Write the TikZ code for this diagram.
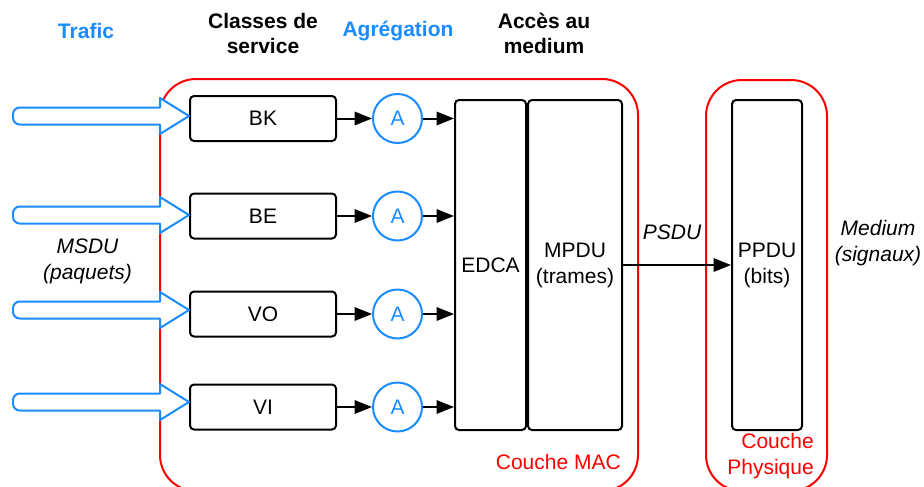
\documentclass[tikz,border=0pt]{standalone}
\usepackage{fontspec}
\setmainfont{Liberation Sans}
\usepackage{xcolor}
\usetikzlibrary{%
	arrows.meta,%
	calc,%
	positioning%
}
\definecolor{trafblue}{HTML}{1A8CFF}
\definecolor{macred}{HTML}{FF0000}

\begin{document}
\begin{tikzpicture}[x=0.75pt,y=-0.75pt,
	txt/.style={font=\fontsize{15.75}{19.5}\selectfont,align=center,inner sep=0pt},
	hdr/.style={txt,font=\fontsize{15.75}{18.75}\selectfont\bfseries},
	lbl/.style={txt,font=\fontsize{15.75}{19.5}\selectfont\itshape},
	blk/.style={draw,line width=1.5pt,rounded corners=3pt,txt,minimum height=247.5pt},
	cls/.style={blk,minimum width=109.5pt,minimum height=33.75pt},
	agg/.style={circle,draw=trafblue,line width=1.5pt,text=trafblue,txt,minimum size=36.75pt},
	arr/.style={line width=1.5pt,-{Triangle[length=13pt,width=10pt]}},
	blockarr/.style={draw=trafblue,fill=white,line width=1.5pt,line join=round},
	layer/.style={draw=macred,line width=1.5pt,rounded corners=27pt}
	]
	\useasboundingbox (0,0) rectangle (924,486);
	\draw[layer] (160,79) rectangle (638,491);
	\draw[layer] (706,80) rectangle (827,491);
	\node[blk,minimum width=53.25pt] (edca) at (490.5,265) {EDCA};
	\node[blk,minimum width=70.5pt,right=0pt of edca] (mpdu) {MPDU\\(trames)};
	\node[blk,minimum width=52.5pt] (ppdu) at (767,265) {PPDU\\(bits)};
	\draw[arr] (mpdu) -- (ppdu);
	\foreach \cname/\ysrc/\ycls [count=\i] in {BK/116/118.5,BE/215/216,VO/310/314,VI/402/407}
	{
		\node[cls] (cls\i) at (263,\ycls) {\cname};
		\node[agg] (agg\i) at (397.5,\ycls) {A};
		\coordinate (src\i) at (13,\ysrc);
		\draw[arr] (cls\i) -- (agg\i);
		\draw[arr] (agg\i) -- (agg\i -| edca.west);
		\draw[blockarr] ($(cls\i.west |- src\i)+(-29,-8.5)$) [rounded corners=5pt] -- ($(src\i)+(0,-8.5)$) -- ($(src\i)+(0,8.5)$) [sharp corners] -- ($(cls\i.west |- src\i)+(-29,8.5)$) -- ++(0,9.5) -- (cls\i.west |- src\i) -- ++(-29,-18) -- cycle;
	}
	\node[hdr,text=trafblue] (hTrafic) at (86,31) {Trafic};
	\node[hdr] (hClasses) at (263,33.5) {Classes de\\service};
	\node[hdr,text=trafblue] (hAgreg) at (398,31) {Agrégation};
	\node[hdr] (hAcces) at (544,33.5) {Accès au\\medium};
	\node[lbl] (msdu) at (87.5,261) {MSDU\\(paquets)};
	\node[lbl] (psdu) at (672,232) {PSDU};
	\node[lbl] (medium) at (878,243) {Medium\\(signaux)};
	\node[txt,text=macred,anchor=east] (cMAC) at (621,462) {Couche MAC};
	\node[txt,text=macred,anchor=east,align=right] (cPhy) at (814,456.5) {Couche\\Physique};
\end{tikzpicture}
\end{document}
